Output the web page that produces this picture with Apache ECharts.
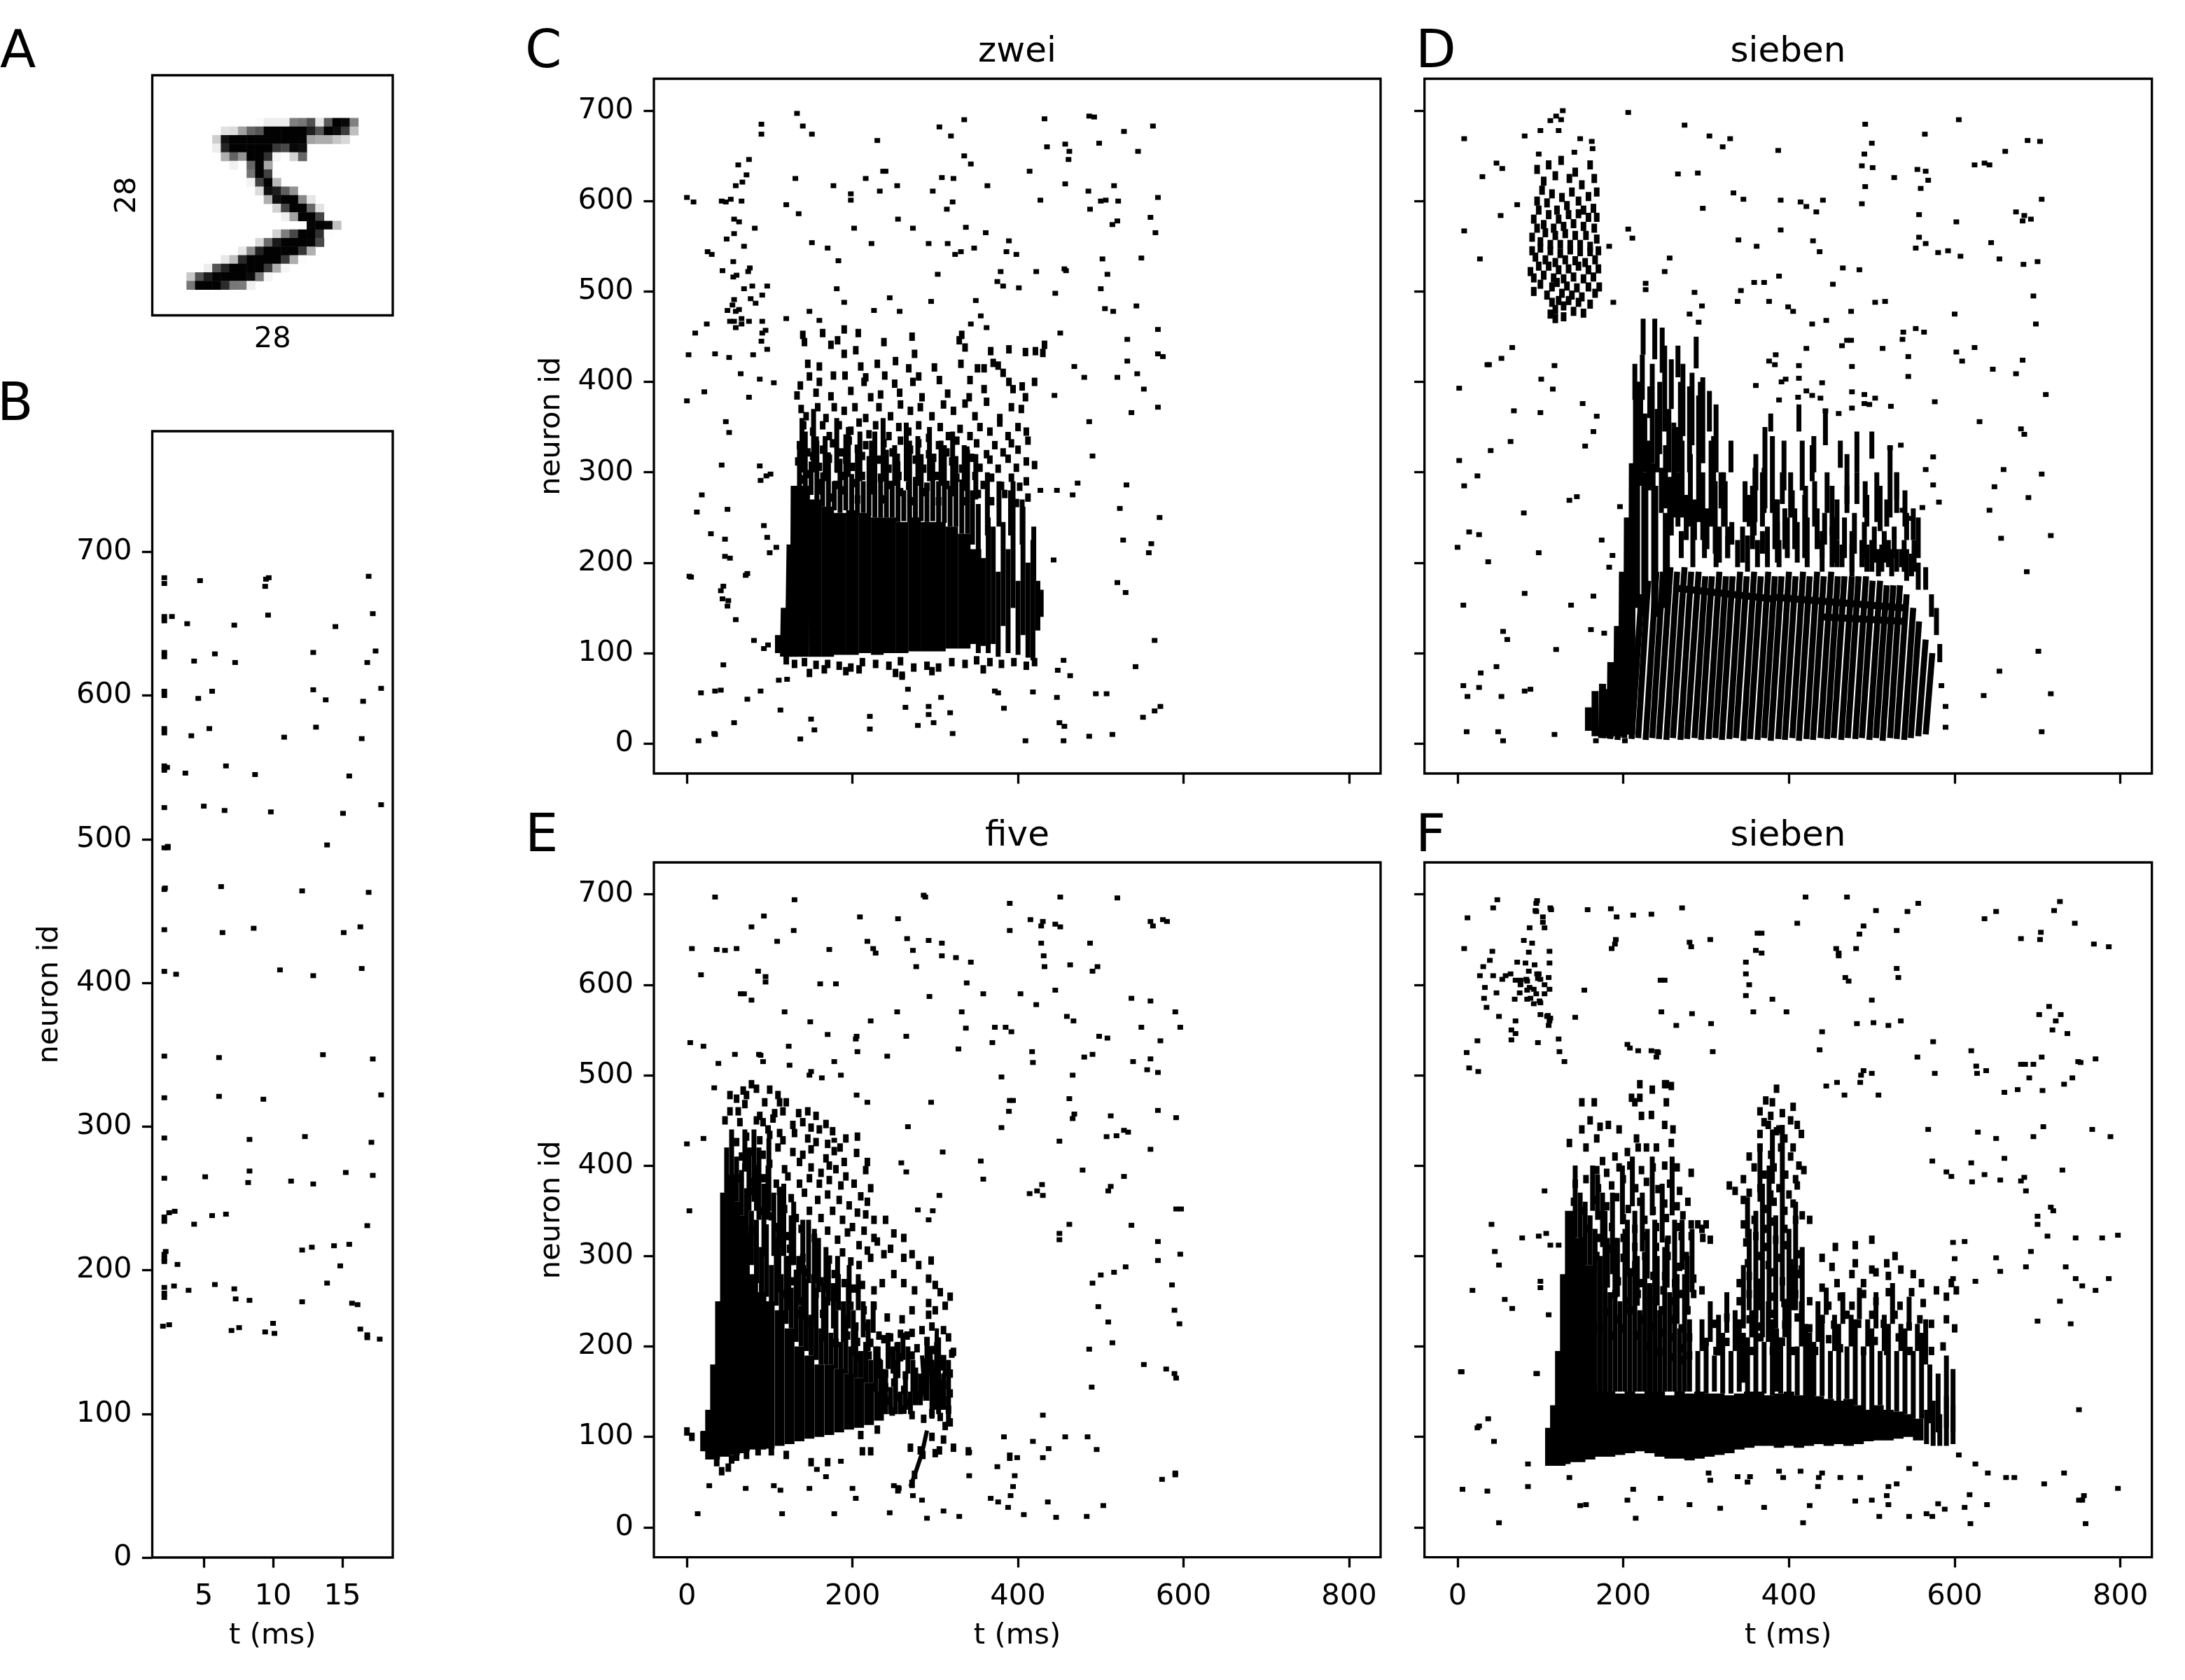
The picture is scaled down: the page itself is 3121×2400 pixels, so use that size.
<!DOCTYPE html>
<html><head><meta charset="utf-8"><style>html,body{margin:0;padding:0;background:#fff}#c{width:3121px;height:2400px}</style>
<script src="https://cdn.jsdelivr.net/npm/echarts@6/dist/echarts.min.js"></script></head><body><div id="c"></div>
<script>
// MNIST digit: [row, first column, grey values...]
const digitRows=[[5,12,3,18,18,18,126,136,175,26,166,255,247,127],[6,8,30,36,94,154,170,253,253,253,253,253,225,172,253,242,195,64],[7,7,49,238,253,253,253,253,253,253,253,253,251,93,82,82,56,39],[8,7,18,219,253,253,253,253,253,198,182,247,241],[9,8,80,156,107,253,253,205,11,0,43,154],[10,9,14,1,154,253,90],[11,11,139,253,190,2],[12,11,11,190,253,70],[13,12,35,241,225,160,108,1],[14,13,81,240,253,253,119,25],[15,14,45,186,253,253,150,27],[16,15,16,93,252,253,187],[17,18,249,253,249,64],[18,14,46,130,183,253,253,207,2],[19,12,39,148,229,253,253,253,250,182],[20,10,24,114,221,253,253,253,253,201,78],[21,8,23,66,213,253,253,253,253,198,81,2],[22,6,18,171,219,253,253,253,253,195,80,9],[23,4,55,172,226,253,253,253,253,244,133,11],[24,4,136,253,253,253,212,135,132,16]];

// Panel B: t, id pairs
const inputSpikes=[2.15,678,2.15,682,2.15,652,2.15,655,2.15,627,2.15,630,2.15,600,2.15,603,2.15,574,2.15,577,2.15,548,2.15,551,2.15,522,2.15,494,2.15,465,2.2,466,2.15,437,2.15,408,4.73,680,9.69,682,9.49,681,9.43,676,16.9,683,2.7,655,3.8,650,7.2,649,9.64,656,14.5,648,17.2,657,4.3,624,5.8,629,7.26,623,12.9,630,16.8,623,17.4,631,4.6,598,5.6,603,12.9,604,13.8,597,16.5,596,17.8,605,4.1,572,5.4,577,10.8,571,13.1,578,16.4,570,2.35,550,3.67,546,6.6,551,8.7,545,15.5,544,5,523,6.5,520,9.84,519,15.05,518,17.8,524,2.4,494,2.4,495,13.9,496,6.25,467,12.1,464,16.9,463,6.35,435,8.6,438,15.1,435,16.3,439,3,406,10.5,409,12.9,405,16.4,410,2.15,349,6.1,348,13.6,350,17.2,347,2.15,320,6.1,321,9.3,319,17.8,322,2.15,292,8.3,291,12.3,293,17.1,289,2.15,264,5.1,265,8.3,269,8.2,261,11.3,262,12.9,260,15.25,268,17.2,266,2.15,237,2.15,234,2.5,240,2.9,241,4.3,232,5.6,238,6.6,239,16.8,231,2.25,213,2.15,211,2.15,206,2.15,208,3.1,204,12.1,214,12.8,216,14.4,217,15.5,218,14.85,203,2.85,189,2.15,188,2.15,184,2.15,181,3.9,186,5.8,190,7.2,187,7.3,180,8.3,179,13.9,191,12.1,178,15.7,177,16.1,176,2.05,161,2.5,162,7,158,7.55,160,9.43,157,10,163,10.1,156,16.3,159,16.8,155,16.8,153,17.7,152];

// Panel C "zwei"
const zweiSparse=[0,604,8,599,42,600,47,599,53,602,66,600,62,640,75,646,72,629,67,621,59,617,90,685,90,674,133,697,140,683,151,674,230,667,305,682,319,672,335,690,432,691,486,694,492,693,528,677,563,683,498,664,435,660,457,663,462,655,461,646,545,655,335,650,343,641,414,633,237,633,240,633,308,626,322,625,216,625,131,625,177,617,254,617,363,617,457,619,516,617,198,608,198,601,233,611,297,611,485,611,569,604,427,601,500,600,506,601,521,600,321,599,314,591,487,591,120,596,135,586,57,580,63,577,82,570,57,564,48,558,69,550,25,544,30,541,56,533,43,523,74,522,76,526,60,518,56,516,69,503,79,506,97,506,91,496,77,492,83,487,49,479,57,491,55,485,59,478,63,480,52,467,57,467,66,470,66,464,59,460,75,467,91,467,24,464,10,454,91,454,95,457,90,445,97,436,80,430,34,431,2,430,51,427,65,409,88,403,105,399,21,389,0,379,75,383,47,356,51,344,42,308,88,307,101,298,96,296,89,291,18,275,12,256,49,259,93,241,29,232,97,228,46,226,108,217,100,211,46,207,52,205,73,188,71,186,3,185,5,184,44,174,41,169,43,160,50,158,49,152,59,137,81,114,93,105,98,109,44,87,111,70,121,71,17,56,34,58,41,59,89,58,73,49,113,37,57,23,150,27,154,15,137,5,14,3,33,11,34,10,151,554,170,548,183,534,202,570,223,553,255,580,273,570,292,553,315,553,324,541,331,544,347,548,337,571,361,565,389,556,386,544,398,541,303,519,379,522,422,522,456,525,458,523,502,536,508,519,549,537,560,582,566,565,514,574,520,578,375,511,382,506,401,504,445,498,500,503,543,484,505,481,515,478,181,503,190,488,245,493,226,479,257,478,295,489,349,490,355,473,343,464,362,460,451,454,569,458,532,447,532,423,569,431,575,428,544,409,520,405,480,405,468,417,552,392,444,385,569,372,537,366,486,356,490,318,427,280,447,280,472,288,466,275,531,286,523,260,571,250,527,225,561,221,558,211,443,203,520,178,530,167,565,114,542,85,455,92,448,81,463,75,418,57,447,51,494,55,507,55,572,41,565,36,551,29,450,23,456,19,455,3,486,8,514,10,409,3,321,11,298,23,279,20,221,30,221,16,292,41,292,32,318,34,264,40,307,51,267,60,260,75,383,39,372,58,376,56,120,470,148,478,160,468];
const zweiDense=[140,452,142,444,164,454,190,458,207,454,174,441,182,446,190,431,204,435,238,444,272,450,329,446,332,452,336,438,367,434,389,436,409,433,421,434,432,441,430,432,230,420,252,423,275,431,299,416,331,420,351,415,359,415,370,421,376,418,382,410,146,420,160,417,177,407,191,407,210,417,268,415,280,406,239,407,216,405,148,406,137,396,160,400,198,390,214,400,251,398,273,400,305,402,342,402,389,400,405,395,420,400,359,392,394,392,409,383,133,385,156,388,174,384,222,383,234,386,257,388,284,383,315,387,341,383,138,370,144,362,158,372,168,360,178,372,190,368,203,372,216,360,232,372,246,362,258,375,270,368,282,372,296,362,310,375,322,368,336,376,348,362,362,378,378,360,392,372,404,370,141,352,152,345,164,352,172,340,184,352,198,346,208,355,220,342,228,352,244,340,256,350,268,345,280,352,292,338,306,350,316,340,330,348,342,340,354,350,366,345,378,355,388,340,400,350,410,345,136,330,146,322,156,335,164,325,176,332,186,322,196,335,206,326,216,330,226,320,238,332,248,322,258,335,270,325,280,332,292,320,304,330,314,322,326,335,338,324,350,332,362,320,372,330,382,322,392,332,400,325,412,335,134,312,142,305,152,318,160,306,172,315,182,304,192,314,200,306,212,318,222,305,232,314,244,304,254,316,266,306,276,314,286,304,298,316,308,305,320,312,332,304,344,316,354,305,366,314,376,304,388,315,398,305,410,312,420,308,138,292,148,298,158,288,170,296,180,286,190,296,202,288,212,296,222,285,234,294,246,286,256,296,268,285,280,294,290,284,302,296,314,286,326,294,336,284,348,296,358,286,368,294,380,285,392,294,402,284,410,290,145,276,160,280,175,272,190,280,206,270,222,280,240,270,258,278,272,268,288,278,304,268,320,278,336,268,352,276,368,268,384,276,398,266,412,272,120,92,130,88,142,90,156,87,170,88,184,86,198,84,212,90,228,88,244,86,258,91,274,84,290,86,304,84,320,90,336,88,350,92,358,82,148,78,166,82,192,80,208,82,252,78,296,80,260,75,366,90,380,88,395,90,410,86,420,90];
const zweiDashes=[136,285,330,143,270,345,150,275,312,157,268,335,164,262,300,171,260,322,178,258,290,185,255,315,192,258,342,199,255,298,206,252,328,213,255,290,220,252,318,227,250,345,234,250,295,241,250,325,248,250,290,255,245,312,262,246,280,269,245,335,276,248,295,283,246,320,290,245,285,297,246,312,304,244,290,311,244,330,318,240,285,325,240,318,332,232,292,339,232,325,345,220,280,352,100,265,358,108,205,364,100,250,370,110,240,376,96,190,382,130,245,388,100,215,394,150,290,400,98,180,406,120,262,412,95,200,418,92,225,424,125,180,428,140,170,139,300,360,153,300,370,167,290,340,181,300,360,195,295,350,209,290,345,223,285,335,237,290,360,251,285,330,265,290,355,279,285,340,293,290,350,307,285,335,321,280,345,335,280,330,349,270,320,363,230,300,377,240,290,391,230,280,405,220,270,419,180,240];
const zweiCore=[114,100,114,120,120,96,121,150,126,96,128,220,132,96,133,285,140,96,141,285,155,96,155,270,170,96,170,262,185,98,185,255,200,98,200,258,215,100,215,255,230,98,230,250,245,100,245,250,260,100,260,245,275,102,275,250,290,102,290,245,305,102,305,245,320,105,320,240,335,105,335,232,348,110,348,215];

// Panel D "sieben"
const siebenDSparse=[8,669,8,567,27,536,30,627,47,642,54,636,52,584,72,596,81,672,98,652,100,678,112,689,119,694,125,690,127,700,122,678,148,669,162,666,163,658,141,654,206,698,274,684,304,672,320,660,329,669,387,656,266,630,290,631,296,592,333,609,345,602,390,601,414,599,421,594,433,588,441,601,390,568,339,557,361,550,429,556,437,544,206,569,211,559,183,550,256,537,250,522,227,509,227,502,286,499,188,488,295,484,280,475,291,466,492,685,500,664,491,652,488,639,501,637,492,616,488,597,527,626,564,674,555,635,565,633,568,623,559,614,557,585,557,560,553,548,565,553,580,543,592,545,607,539,605,690,602,577,624,640,636,642,642,640,661,655,688,667,703,666,705,602,674,588,684,584,682,578,692,580,644,554,654,536,683,530,700,533,695,495,698,464,600,475,602,433,609,423,624,438,646,414,674,409,682,424,710,386,630,356,680,348,684,342,659,303,648,284,705,298,689,272,642,258,656,227,716,230,687,190,701,102,654,80,635,53,716,55,705,13,453,508,465,526,485,524,342,501,338,489,358,510,370,510,388,517,376,489,399,483,405,478,428,464,445,468,475,478,504,488,516,489,538,455,537,447,553,459,563,455,464,440,470,446,475,446,421,437,513,437,544,428,544,406,376,423,384,430,383,419,412,418,476,417,360,396,391,400,396,403,412,404,440,399,421,390,411,383,428,385,438,382,388,380,476,389,491,386,491,376,497,375,504,382,523,373,576,378,444,368,460,365,476,371,535,330,522,327,574,317,565,303,574,286,581,267,561,261,548,249,537,258,2,393,66,438,53,426,36,419,38,419,101,403,117,418,115,392,68,368,100,366,151,376,168,362,164,345,154,329,64,334,40,324,2,313,24,296,8,285,135,269,144,273,80,255,196,262,14,234,26,231,0,217,37,201,98,211,174,225,187,208,183,195,81,166,7,153,137,153,164,163,55,124,60,115,161,126,177,122,119,104,47,85,28,78,7,64,26,62,12,52,53,52,81,58,88,60,11,13,49,13,55,3,117,10,167,3,202,3,589,18,584,64,589,41];
const siebenDBlob=[96,635,104,622,110,640,118,628,125,645,135,625,142,632,150,618,160,640,165,625,168,610,96,600,102,612,108,598,114,608,120,590,126,604,132,595,138,610,146,600,152,590,158,605,164,592,168,582,92,580,98,590,104,574,110,585,116,570,122,580,128,572,134,585,140,575,146,586,152,572,158,582,165,570,90,560,96,570,100,555,106,565,112,552,118,562,124,552,130,564,136,552,142,562,148,552,155,562,160,550,168,558,90,545,94,538,100,548,106,535,112,545,118,532,124,542,130,535,136,546,142,534,148,544,154,532,160,544,166,535,170,545,88,522,92,515,98,528,104,518,110,528,116,515,122,524,128,514,134,525,140,516,146,528,152,514,158,524,164,516,170,525,92,500,100,508,108,496,114,505,120,510,126,498,132,506,138,496,144,504,150,494,158,505,166,498,171,505,114,488,118,480,122,490,128,484,134,490,140,478,146,488,152,476,160,486,118,470,112,475,128,472];
const siebenDDashes=[214,380,420,219,335,400,224,430,470,232,360,395,238,425,470,244,320,400,250,345,440,258,370,425,264,300,350,266,405,440,272,340,420,280,300,395,288,415,450,296,310,405,304,345,390,312,300,375,318,260,300,330,300,335,352,240,275,360,280,320,370,255,305,378,345,365,386,225,270,394,280,335,402,250,300,412,345,375,420,235,285,430,300,340,444,330,370,452,230,285,462,305,335,470,265,320,482,300,345,492,250,290,500,315,345,510,235,285,522,250,330,530,270,300,540,240,280,550,225,260,358,230,250,258,230,270,270,205,235,284,195,240,298,205,250,312,195,225,326,205,240,338,195,225,368,210,235,388,195,225,440,190,225,458,195,225,476,185,220,494,190,220,508,185,215,520,195,225,530,190,215,542,180,215,556,170,200,565,170,195,572,140,165,578,120,150,582,90,110,216,300,345,221,285,390,226,300,365,231,280,335,236,285,310,241,300,370,246,255,305,251,260,330,256,250,295,261,250,355,266,240,300,271,250,335,276,225,275,281,240,320,286,225,270,291,245,385,296,225,300,301,215,260,306,240,335,311,210,290,316,200,240,321,240,300,326,205,230,331,220,245,344,200,240,350,190,230,356,215,285,362,195,225,368,240,300,374,195,240,380,255,340,386,200,245,392,265,300,398,205,250,404,250,280,410,200,245,416,280,335,422,195,250,428,290,330,434,215,260,440,205,235,446,255,300,452,195,240,458,225,270,464,195,220,470,255,285,476,190,235,482,265,300,488,195,225,494,240,275,500,190,225,506,245,300,512,190,220,518,240,270,524,185,215,530,255,300,536,195,215,542,225,255,548,185,210,556,205,250,347,245,290,359,245,305,371,260,350,383,215,270,395,215,260,407,215,260,419,205,275,431,240,290,443,220,255,455,200,250,467,205,250,479,210,255,491,205,245,503,200,240,515,200,235,527,205,240,539,190,225,551,190,225,223,380,430,235,310,420,247,410,460,255,300,370,269,300,400,283,330,410,293,320,400,309,270,340,323,240,290];
const siebenDStripes=[176,6,182,60,184,5,191,78,193,4,201,100,201,6,211,130,210,5,222,165,218,6,230,180,227,4,240,190,235,6,248,190,243,5,257,195,252,4,265,190,260,6,274,195,269,4,282,190,277,5,291,190,286,6,299,185,294,4,307,185,303,5,316,190,311,6,324,185,319,4,332,185,328,5,341,190,336,6,349,185,345,3,358,190,353,5,366,185,362,4,375,190,370,6,383,185,378,3,391,185,387,5,400,190,395,4,408,185,404,6,417,190,412,3,425,185,421,5,434,190,429,4,442,185,438,6,451,190,446,5,459,185,454,6,467,185,463,4,476,185,471,6,484,185,480,5,493,185,488,6,501,180,497,4,510,180,505,6,518,175,513,3,526,175,522,6,534,175,530,5,542,165,539,4,550,150,547,6,557,135,556,8,565,115,565,10,573,100];
const siebenDCore=[158,14,158,40,166,8,166,58,174,6,175,66,184,6,185,90,192,8,193,130,198,8,199,190,204,10,205,250,210,10,211,310,216,150,216,400,226,140,226,300,238,140,238,285,252,150,252,255];
const siebenDBand=[262,172,380,160,380,162,540,150,440,140,540,135];

// Panel E "five"
const fiveSparse=[34,697,130,694,286,699,288,697,390,690,451,697,520,696,93,676,78,664,129,660,209,675,255,673,445,667,415,672,428,665,430,670,451,664,390,660,560,670,563,665,575,672,580,670,6,640,36,639,46,638,60,640,109,648,172,639,225,640,218,648,228,635,266,651,273,638,292,649,308,646,308,632,325,630,343,625,277,620,431,632,428,646,432,620,463,622,487,646,496,620,490,615,17,611,86,615,95,609,95,603,161,601,180,601,338,602,358,590,403,590,422,578,445,594,65,590,69,590,78,583,293,587,560,582,537,585,590,570,596,553,118,570,149,559,222,560,254,570,332,570,337,552,369,536,372,553,385,553,392,548,459,565,467,560,549,553,498,543,508,541,572,538,4,536,20,532,123,532,170,545,205,543,204,540,206,526,265,543,328,529,417,526,418,514,480,520,490,523,539,515,560,518,556,506,569,503,58,523,38,513,87,523,92,515,89,522,124,511,242,521,380,498,466,500,33,486,178,515,186,500,148,500,150,504,163,497,205,478,218,470,295,470,267,443,178,428,390,472,394,472,389,460,380,442,466,452,462,474,468,457,569,461,512,455,591,453,528,439,519,433,507,432,533,437,450,427,560,418,309,415,0,424,20,430,355,405,358,385,265,393,259,403,414,369,423,372,430,367,429,379,478,395,528,388,512,377,509,372,3,350,279,351,305,367,297,350,292,340,462,335,450,318,537,334,450,325,569,316,591,352,597,352,596,302,569,295,530,288,516,282,500,279,490,270,586,268,595,225,497,244,509,227,589,240,514,204,486,197,552,180,579,175,589,170,591,165,489,155,430,124,457,100,484,100,383,100,418,95,437,87,430,77,495,86,341,83,399,77,375,67,396,57,341,57,574,53,590,58,394,45,391,35,367,32,376,28,388,22,407,14,436,28,446,11,483,12,503,24,590,60,310,18,329,12,290,10,245,16,178,15,115,15,13,15,27,46,71,43,113,41,148,43,200,43,204,32,157,64,168,56,186,73,105,46,250,46,256,43,273,35,284,30];
const fiveDense=[52,478,60,474,68,483,72,478,78,490,84,485,100,484,110,478,52,460,62,460,70,468,88,455,94,470,106,458,112,470,116,460,46,450,64,448,84,450,92,448,104,452,120,470,135,458,146,460,156,455,168,446,98,440,112,436,128,445,140,448,150,442,160,440,176,438,192,430,206,432,60,426,72,432,88,428,100,434,116,428,130,436,146,430,156,426,170,424,185,420,205,414,66,410,78,415,92,412,110,420,128,415,140,412,150,418,168,408,178,416,190,404,218,404,70,398,84,396,100,402,118,396,136,404,150,398,162,392,172,400,180,396,192,388,216,395,60,386,76,382,92,386,108,380,122,388,136,380,148,386,160,380,172,384,186,378,202,380,222,375,210,366,218,360,80,372,96,366,112,372,126,364,142,370,158,362,170,368,184,362,196,356,206,348,216,346,226,340,88,350,102,344,118,352,132,342,148,350,162,342,176,350,188,340,200,332,214,328,226,320,240,340,250,325,78,328,94,322,108,332,122,322,138,330,154,320,170,328,182,318,194,326,208,312,218,306,230,316,246,308,262,320,94,304,110,296,124,308,140,298,156,306,172,296,188,304,198,294,208,290,222,298,238,302,262,298,280,290,295,295,272,302,292,275,110,280,128,272,146,282,162,272,178,280,190,270,202,264,212,268,226,262,236,270,250,280,262,270,275,262,292,248,300,268,306,260,318,255,120,258,138,250,156,258,170,250,182,256,198,245,214,240,226,245,242,232,260,230,272,240,292,235,300,240,312,245,136,236,150,226,164,236,178,226,192,230,204,222,218,222,232,212,246,210,258,214,272,215,284,218,296,222,310,218,165,210,180,204,194,212,206,205,222,204,238,208,254,200,266,212,278,198,290,206,302,200,316,210,320,192,205,188,220,190,232,182,246,194,258,188,272,190,286,182,296,196,310,186,322,194,240,170,252,176,264,168,276,172,288,178,300,170,310,178,318,170,240,155,250,160,262,152,274,158,286,162,298,150,310,158,318,148,245,140,256,144,268,138,280,146,300,136,310,140,316,130,248,128,262,130,272,124,296,126,306,122,318,116,286,120,312,112,230,108,212,84,222,84,210,102,170,72,150,72,120,80,102,84,86,84,72,80,60,78,50,66,54,75,42,62,36,72,30,96,0,106,6,100,20,102,270,88,282,85,296,100,285,80,275,58,300,82,305,85,322,88,340,84,390,78,310,97,255,42,272,48];
const fiveDashes=[48,370,420,54,390,440,60,360,410,66,345,395,72,325,375,78,290,350,84,270,340,90,260,310,96,255,335,102,250,290,108,245,320,114,238,280,120,225,300,126,220,265,132,205,285,138,200,245,144,195,275,150,190,235,156,185,265,162,180,220,168,180,250,174,180,215,180,175,240,186,172,205,192,170,235,198,168,200,204,165,220,210,165,195,216,160,205,222,160,185,228,150,200,234,150,185,240,125,170,246,125,155,252,125,185,258,125,150,264,130,170,270,125,150,276,135,175,282,135,170,290,140,205,296,120,185,304,125,210,310,130,170,316,115,185,70,400,440,84,350,395,98,340,400,112,310,370,126,290,345,140,280,340,154,270,330,168,260,310,182,250,300,196,240,290,75,350,420,81,360,440,87,340,420,93,300,380,99,350,430,105,300,370,111,260,330,117,300,380,123,240,300,129,290,360,135,250,300,141,230,290,147,270,340,153,230,280,159,260,320,165,210,270,171,250,300,177,220,270,183,240,280,189,205,250,195,220,270,201,190,240,207,240,280,213,210,250,219,195,230,225,215,250,231,165,200,237,130,175,243,175,215,249,170,200,255,165,205,261,185,215,267,170,200,273,150,185];
const fiveCore=[22,84,22,106,28,75,28,130,34,75,34,180,40,78,40,250,46,78,46,370,52,80,52,390,58,80,58,360,64,82,64,345,70,84,70,325,80,86,80,280,90,86,90,260,100,87,100,250,112,90,112,240,124,92,124,220,136,95,136,200,148,98,148,190,160,100,160,180,172,102,172,180,184,105,184,175,196,108,196,170,208,110,208,165,220,113,220,160,232,118,232,150];
const fiveStreaks=[290,107,284,82,284,82,276,60,276,60,270,45,300,130,302,220,305,130,312,175,296,150,294,200,288,140,284,190];

// Panel F "sieben"
const siebenFSparse=[12,674,8,640,43,685,48,694,95,690,94,682,103,675,112,685,157,683,185,684,192,675,212,677,234,678,271,685,420,697,470,697,505,682,543,681,556,690,636,673,650,681,720,682,727,692,745,668,191,650,190,645,186,640,280,647,282,642,305,650,410,668,362,657,367,657,490,665,485,656,530,660,680,651,704,658,786,642,703,650,768,645,457,640,460,635,481,640,360,638,367,635,460,632,42,637,39,627,31,620,27,610,43,610,54,606,47,591,32,585,35,575,33,597,70,605,76,600,84,604,88,585,96,612,87,597,95,590,100,580,50,565,97,607,105,590,110,608,105,600,108,565,112,563,110,555,70,560,70,546,24,538,11,525,14,508,25,504,58,610,64,612,245,605,250,605,246,570,283,568,264,555,306,557,308,526,241,526,242,525,240,520,208,530,205,534,218,527,234,527,153,594,142,564,357,570,348,625,348,612,352,600,348,588,380,584,397,570,440,548,437,528,502,558,530,618,532,608,500,583,468,608,472,604,482,557,520,555,535,560,445,488,458,492,467,478,486,492,487,500,490,505,500,502,508,478,555,520,574,537,576,502,568,440,620,527,626,510,627,502,638,505,660,481,680,512,685,512,695,512,705,520,732,490,749,515,752,514,770,518,736,546,718,550,742,497,702,567,722,560,728,567,714,576,676,484,690,497,706,483,707,443,730,395,628,437,650,430,766,440,788,432,695,432,684,387,686,372,719,350,700,344,716,354,620,403,636,390,655,384,660,408,573,405,590,393,596,388,621,382,680,383,612,316,650,298,598,315,600,297,598,275,625,272,655,283,700,335,712,322,746,320,778,320,797,323,692,305,686,288,734,288,746,275,727,250,700,228,740,225,754,267,770,262,786,275,750,130,26,112,44,95,96,170,155,25,148,24,135,55,128,80,6,42,36,40,50,5,215,10,205,30,212,42,245,32,280,25,317,21,370,22,417,5,425,24,480,29,500,30,509,12,520,25,545,12,566,15,573,12,580,26,588,20,612,22,619,4,639,25,672,55,662,55,640,60,618,36,605,80,625,70,545,65,530,48,520,45,518,35,486,55,462,55,440,60,436,55,435,45,353,56,350,50,388,62,393,55,414,62,338,56,303,60,305,52,756,35,750,30,754,30,758,4,797,43,708,48,732,60,150,318,41,335,78,320,100,272,18,262,57,252,66,242,4,172,5,172,37,120,24,110,107,325,100,265,45,305,50,290,86,615,72,625,105,372,98,322,110,235,95,170,85,70,85,45,112,312,122,312,87,663,90,646,96,693,95,681,103,669,105,663,80,649,86,636,82,624,93,622,98,612,100,606,76,605,83,606,84,594,75,591,92,595,69,584,84,584,92,579,99,582,100,567,109,566,111,560,111,595,111,624,111,637,113,683,65,550,65,539,97,536,122,540,123,526,129,515];
const siebenFDense=[150,440,160,450,172,443,155,420,168,430,182,445,135,425,150,470,165,470,210,475,214,470,220,490,220,475,235,484,250,490,252,490,258,488,252,470,218,420,222,455,234,456,250,445,260,440,195,440,175,405,190,410,205,415,216,430,228,420,240,420,258,425,168,395,180,392,195,398,208,400,222,395,236,398,250,400,265,398,282,392,142,380,155,385,170,375,186,378,200,385,215,375,228,382,242,374,256,380,268,372,278,360,140,360,150,350,165,362,180,355,192,365,206,352,220,360,236,350,250,358,265,355,272,345,282,335,140,342,155,330,170,345,186,332,200,342,214,330,226,340,240,332,252,342,268,332,282,322,295,330,200,320,214,310,226,322,240,310,254,318,270,322,290,335,296,320,305,318,300,335,170,320,186,308,168,300,200,298,214,290,226,300,240,290,254,300,268,288,276,300,250,278,262,270,275,262,285,275,180,280,194,272,208,282,222,270,236,278,248,262,260,250,268,258,278,240,285,258,295,262,190,258,204,250,218,258,232,250,246,240,258,230,270,220,180,238,194,230,208,240,222,230,236,222,248,215,260,210,270,198,280,210,172,220,186,212,200,220,216,212,230,200,244,194,258,188,270,185,280,190,300,205,312,195,325,205,340,210,355,195,366,210,380,195,392,205,405,195,418,210,432,195,448,208,462,198,476,210,490,195,504,206,518,195,532,210,546,195,558,208,572,195,586,200,310,225,325,232,338,222,352,230,366,222,380,236,395,224,410,232,425,220,440,230,454,224,470,235,484,225,500,235,514,225,528,235,545,222,558,230,572,225,590,230,600,220,340,250,352,258,366,246,380,255,394,248,408,258,425,250,448,245,462,255,476,245,490,258,505,250,520,260,534,245,548,260,562,248,578,262,590,255,596,270,602,262,340,270,352,278,365,270,378,282,392,272,410,280,440,265,458,270,476,280,490,270,505,282,520,278,535,285,550,280,560,270,350,292,362,300,375,290,388,298,402,292,415,285,440,298,452,288,480,292,500,285,518,292,528,300,348,315,360,322,372,310,384,318,396,312,410,302,456,310,480,312,500,318,345,335,358,340,370,330,382,338,395,330,408,340,370,352,382,360,395,350,405,358,416,345,425,340,345,362,352,370,365,375,378,368,388,375,400,368,410,378,335,372,328,378,345,385,358,398,370,390,382,398,396,390,408,385,418,395,352,410,365,420,378,412,390,420,402,410,412,400,365,435,375,445,385,438,395,430,405,420,365,460,380,470,392,458,402,450,410,445,415,435,372,472,385,485,378,455,370,448,388,440,405,465];
const siebenFDashes=[142,320,400,148,320,370,154,290,360,160,290,345,166,150,330,172,150,300,178,150,350,184,150,260,190,150,320,196,150,250,202,150,330,208,150,280,214,150,350,220,150,240,226,150,300,232,150,270,238,150,340,244,150,240,250,150,310,256,150,260,262,150,340,268,150,220,274,150,280,280,150,230,290,150,195,300,148,205,310,150,190,320,148,215,330,148,195,340,150,230,350,150,210,360,150,240,370,148,205,380,146,230,390,148,210,400,150,240,410,146,200,420,146,225,430,145,205,440,145,235,450,142,195,460,140,225,470,142,200,480,135,230,490,130,200,500,130,220,510,135,195,520,130,225,530,128,195,540,125,220,550,120,195,560,120,215,570,115,180,580,105,170,590,110,190,598,105,175,345,220,290,352,240,330,360,230,350,368,210,380,376,240,400,384,220,345,392,250,400,400,220,330,408,240,360,416,220,310,350,320,365,365,360,420,380,380,440,392,400,445,566,92,130,574,90,140,582,90,125,590,90,145,598,92,135,163,350,400,169,340,390,175,310,370,181,265,320,187,280,370,193,255,320,199,335,400,205,285,340,211,355,410,217,245,300,223,305,370,229,275,330,235,345,410,241,245,300,247,315,380,253,265,320,259,345,410,265,225,280,271,285,340,277,235,300,283,260,330,295,195,230,305,205,250,315,190,235,325,215,260,335,195,240,345,160,215,355,210,240,365,240,275,375,205,250,385,150,220,395,210,245,405,240,290,415,200,250,425,150,215,435,205,250,445,235,265,455,195,235,465,225,260,475,200,235,485,230,265,495,200,230,505,220,260,515,195,235,525,225,270,535,195,225,545,220,255,555,195,225,565,180,230];
const siebenFCore=[112,68,112,110,118,68,118,135,124,68,124,195,130,70,130,280,136,72,136,350,148,72,148,320,160,75,160,290,172,78,172,150,184,78,184,150,196,80,196,148,208,82,208,150,220,84,220,148,232,82,232,150,244,78,244,150,256,76,256,146,268,76,268,150,280,74,280,148,292,76,292,150,304,78,304,148,316,80,316,148,328,82,328,146,340,86,340,148,352,88,352,150,364,90,364,150,376,90,376,146,388,88,388,148,400,90,400,150,412,88,412,146,424,90,424,150,436,92,436,145,448,90,448,142,460,92,460,140,472,90,472,142,484,92,484,135,496,95,496,130,508,96,508,135,520,96,520,130,532,98,532,128,544,100,544,125,556,96,556,120];

const digitCells=[];
digitRows.forEach(r=>{for(let i=2;i<r.length;i++)digitCells.push([r[1]+i-2,r[0],r[i]]);});
const pairs=a=>{const o=[];for(let i=0;i<a.length;i+=2)o.push([a[i],a[i+1]]);return o;};
const quads=a=>{const o=[];for(let i=0;i<a.length;i+=4)o.push([a[i],a[i+1],a[i+2],a[i+3]]);return o;};
const dashes=a=>{const o=[];for(let i=0;i<a.length;i+=3)o.push([a[i],a[i+1],a[i],a[i+2]]);return o;};

const FONT='DejaVu Sans', FS=41.67;
const tickX=[0,200,400,600,800], tickY=[0,100,200,300,400,500,600,700];
const grids=[
 {left:217.5,top:107.5,width:343.5,height:343},
 {left:217.5,top:616,width:343.5,height:1609},
 {left:934,top:112.5,width:1038,height:992.5},
 {left:2034.7,top:112.5,width:1039,height:992.5},
 {left:934,top:1232,width:1038,height:992.7},
 {left:2034.7,top:1232,width:1039,height:992.7}
].map(g=>Object.assign(g,{show:true,borderColor:'#000',borderWidth:3.3,backgroundColor:'#fff',containLabel:false}));

const tick={show:true,length:14.6,lineStyle:{color:'#000',width:3.3}};
function xA(i,o){return Object.assign({gridIndex:i,type:'value',position:'bottom',splitLine:{show:false},axisLine:{show:false,onZero:false},min:-39.9,max:838,
 axisTick:Object.assign({},tick,{customValues:o.ticks||tickX}),
 axisLabel:{show:!!o.label,customValues:o.ticks||tickX,color:'#000',fontFamily:FONT,fontSize:FS,margin:35},
 name:o.name||'',nameLocation:'middle',nameGap:91,nameTextStyle:{color:'#000',fontFamily:FONT,fontSize:FS}},o.extra||{});}
function yA(i,o){return Object.assign({gridIndex:i,type:'value',position:'left',splitLine:{show:false},axisLine:{show:false,onZero:false},min:-33.2,max:735.3,
 axisTick:Object.assign({},tick,{customValues:tickY}),
 axisLabel:{show:!!o.label,customValues:tickY,color:'#000',fontFamily:FONT,fontSize:FS,margin:29,padding:[12,0,0,0]},
 name:o.name||'',nameLocation:'middle',nameGap:o.gap||125,nameRotate:90,nameTextStyle:{color:'#000',fontFamily:FONT,fontSize:FS}},o.extra||{});}
const ids=[];for(let i=0;i<28;i++)ids.push(i);
const xAxes=[
 {gridIndex:0,type:'category',data:ids,axisLine:{show:false},axisTick:{show:false},axisLabel:{show:false},splitLine:{show:false},name:'28',nameLocation:'middle',nameGap:14,nameTextStyle:{color:'#000',fontFamily:FONT,fontSize:FS}},
 xA(1,{label:true,name:'t (ms)',ticks:[5,10,15],extra:{min:1.28,max:18.64}}),
 xA(2,{}),xA(3,{}),xA(4,{label:true,name:'t (ms)'}),xA(5,{label:true,name:'t (ms)'})];
const yAxes=[
 {gridIndex:0,type:'category',data:ids,inverse:true,axisLine:{show:false},axisTick:{show:false},axisLabel:{show:false},splitLine:{show:false},name:'28',nameLocation:'middle',nameGap:14,nameRotate:90,nameTextStyle:{color:'#000',fontFamily:FONT,fontSize:FS}},
 yA(1,{label:true,name:'neuron id',gap:125,extra:{min:0,max:784}}),
 yA(2,{label:true,name:'neuron id',gap:125}),yA(3,{}),yA(4,{label:true,name:'neuron id',gap:125}),yA(5,{})];
function pts(i,a,size){return {type:'scatter',xAxisIndex:i,yAxisIndex:i,data:pairs(a),symbol:'rect',symbolSize:size||[8,7],itemStyle:{color:'#000',opacity:1},silent:true,animation:false,progressive:0};}
function segs(i,list,w){return {type:'custom',xAxisIndex:i,yAxisIndex:i,data:list,silent:true,animation:false,encode:{x:[0,2],y:[1,3]},clip:true,
 renderItem:(p,api)=>{const a=api.coord([api.value(0),api.value(1)]),b=api.coord([api.value(2),api.value(3)]);return {type:'line',shape:{x1:a[0],y1:a[1],x2:b[0],y2:b[1]},style:{stroke:'#000',lineWidth:w,fill:null}};}};}
const DENSE=[8,12];
const series=[
 {type:'heatmap',xAxisIndex:0,yAxisIndex:0,data:digitCells,silent:true,animation:false,progressive:0},
 pts(1,inputSpikes),
 pts(2,zweiSparse),pts(2,zweiDense,DENSE),segs(2,quads(zweiCore),18),segs(2,dashes(zweiDashes),7),
 pts(3,siebenDSparse),pts(3,siebenDBlob,[8,13]),segs(3,quads(siebenDStripes),8.6),segs(3,quads(siebenDCore),10),segs(3,dashes(siebenDDashes),7),segs(3,quads(siebenDBand),10),
 pts(4,fiveSparse),pts(4,fiveDense,DENSE),segs(4,quads(fiveCore),14),segs(4,dashes(fiveDashes),7),segs(4,quads(fiveStreaks),6),
 pts(5,siebenFSparse),pts(5,siebenFDense,DENSE),segs(5,quads(siebenFCore),15),segs(5,dashes(siebenFDashes),7)
];
function label(t,x,y,fs,align){return {type:'text',x,y,style:{text:t,font:fs+'px "DejaVu Sans"',fill:'#000',textAlign:align||'left',textVerticalAlign:'bottom'},silent:true};}
const graphics=[label('A',0,114,75),label('B',-4,618,75),label('C',750,114,75),label('D',2022,114,75),label('E',750,1234,75),label('F',2022,1234,75),
 label('zwei',1453,100,50,'center'),label('sieben',2554,100,50,'center'),label('five',1453,1220,50,'center'),label('sieben',2554,1220,50,'center')];
const chart=echarts.init(document.getElementById('c'),null,{renderer:'canvas',width:3121,height:2400});
chart.setOption({animation:false,backgroundColor:'#fff',grid:grids,xAxis:xAxes,yAxis:yAxes,
 visualMap:{show:false,seriesIndex:0,min:0,max:255,inRange:{color:['#ffffff','#000000']},dimension:2},
 series,graphic:graphics});
</script></body></html>
